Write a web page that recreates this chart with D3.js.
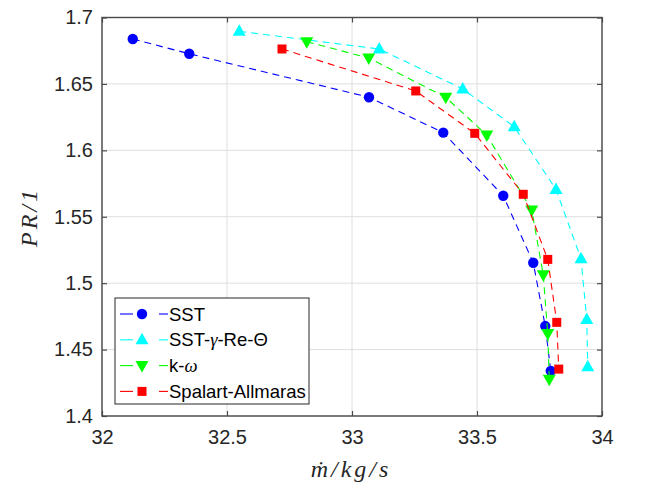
<!DOCTYPE html>
<html><head><meta charset="utf-8">
<script src="https://cdn.jsdelivr.net/npm/d3@7"></script>
<style>body{margin:0;background:#fff}svg{display:block}</style>
</head><body>
<svg id="c" width="646" height="482"></svg>
<script>
const seriesNames = ["SST", "SST-\u03B3-Re-\u0398", "k-\u03C9", "Spalart-Allmaras"];
const sstX = [32.123, 32.349, 33.068, 33.365, 33.605, 33.725, 33.773, 33.795];
const sstY = [1.6838, 1.6727, 1.6400, 1.6133, 1.5658, 1.5154, 1.4677, 1.4340];
const gammaX = [32.549, 33.109, 33.443, 33.649, 33.816, 33.916, 33.939, 33.943];
const gammaY = [1.6896, 1.6763, 1.6462, 1.6178, 1.5706, 1.5184, 1.4727, 1.4370];
const kwX = [32.819, 33.067, 33.375, 33.539, 33.719, 33.765, 33.783, 33.789];
const kwY = [1.6818, 1.6695, 1.6399, 1.6115, 1.5550, 1.5063, 1.4622, 1.4276];
const saX = [32.720, 33.255, 33.491, 33.685, 33.783, 33.819, 33.827];
const saY = [1.6763, 1.6447, 1.6128, 1.5669, 1.5179, 1.4705, 1.4353];
const xTicks = [32, 32.5, 33, 33.5, 34];
const yTicks = [1.4, 1.45, 1.5, 1.55, 1.6, 1.65, 1.7];

const colors = ["#0000ff", "#00ffff", "#00ff00", "#ff0000"];
const markers = ["circle", "up", "down", "square"];
const data = [[sstX, sstY], [gammaX, gammaY], [kwX, kwY], [saX, saY]]
  .map(([xs, ys]) => xs.map((x, i) => ({x, y: ys[i]})));

const L = 102, R = 602, T = 17.5, B = 416;
const svg = d3.select("#c");
const x = d3.scaleLinear().domain([32, 34]).range([L, R]);
const y = d3.scaleLinear().domain([1.4, 1.7]).range([B, T]);
const font = "'Liberation Sans', Arial, Helvetica, sans-serif";

// grid
const g = svg.append("g");
g.selectAll(".gx").data(xTicks).join("line")
  .attr("x1", d => x(d)).attr("x2", d => x(d)).attr("y1", T).attr("y2", B)
  .attr("stroke", "#dedede").attr("stroke-width", 1);
g.selectAll(".gy").data(yTicks).join("line")
  .attr("y1", d => y(d)).attr("y2", d => y(d)).attr("x1", L).attr("x2", R)
  .attr("stroke", "#dedede").attr("stroke-width", 1);

// axes (ticks inside)
const axColor = "#4a4a4a";
function styleAxis(sel, hideText) {
  sel.select(".domain").remove();
  sel.selectAll(".tick line").attr("stroke", axColor).attr("stroke-width", 1.2);
  sel.selectAll(".tick text").attr("fill", "#262626").style("font-family", font).style("font-size", "20px");
  if (hideText) sel.selectAll(".tick text").remove();
}
svg.append("g").attr("transform", `translate(0,${B})`)
  .call(d3.axisBottom(x).tickValues(xTicks).tickFormat(d3.format("~g")).tickSizeInner(-5).tickPadding(14))
  .call(s => styleAxis(s, false));
svg.append("g").attr("transform", `translate(0,${T})`)
  .call(d3.axisTop(x).tickValues(xTicks).tickSizeInner(-5))
  .call(s => styleAxis(s, true));
svg.append("g").attr("transform", `translate(${L},0)`)
  .call(d3.axisLeft(y).tickValues(yTicks).tickFormat(d3.format("~g")).tickSizeInner(-5).tickPadding(9))
  .call(s => styleAxis(s, false));
svg.append("g").attr("transform", `translate(${R},0)`)
  .call(d3.axisRight(y).tickValues(yTicks).tickSizeInner(-5))
  .call(s => styleAxis(s, true));
svg.append("rect").attr("x", L).attr("y", T).attr("width", R - L).attr("height", B - T)
  .attr("fill", "none").attr("stroke", axColor).attr("stroke-width", 1.4);

// markers
function marker(sel, type, color) {
  if (type === "circle") {
    sel.append("circle").attr("r", 5.2).attr("fill", color);
  } else if (type === "up") {
    sel.append("path").attr("d", "M0,-7 L6.5,4.5 L-6.5,4.5Z").attr("fill", color);
  } else if (type === "down") {
    sel.append("path").attr("d", "M0,7 L6.5,-4.5 L-6.5,-4.5Z").attr("fill", color);
  } else {
    sel.append("rect").attr("x", -4.5).attr("y", -4.5).attr("width", 9).attr("height", 9).attr("fill", color);
  }
}

const line = d3.line().x(d => x(d.x)).y(d => y(d.y));
data.forEach((pts, i) => {
  svg.append("path").datum(pts).attr("d", line).attr("fill", "none")
    .attr("stroke", colors[i]).attr("stroke-width", 1.1).attr("stroke-dasharray", "7,5");
  svg.append("g").selectAll("g").data(pts).join("g")
    .attr("transform", d => `translate(${x(d.x)},${y(d.y)})`)
    .each(function () { marker(d3.select(this), markers[i], colors[i]); });
});

// legend
const lg = svg.append("g");
lg.append("rect").attr("x", 115).attr("y", 298).attr("width", 194).attr("height", 106)
  .attr("fill", "#fff").attr("stroke", "#262626").attr("stroke-width", 1);
seriesNames.forEach((name, i) => {
  const yy = 314 + i * 25.8;
  [[120, 133], [159, 168]].forEach(([a, b]) => {
    lg.append("line").attr("x1", a).attr("x2", b).attr("y1", yy).attr("y2", yy)
      .attr("stroke", colors[i]).attr("stroke-width", 1.1);
  });
  const m = lg.append("g").attr("transform", `translate(142,${yy})`);
  marker(m, markers[i], colors[i]);
  const t = lg.append("text").attr("x", 169).attr("y", yy).attr("dy", "0.36em")
    .style("font-family", font).style("font-size", "18.5px").attr("fill", "#000");
  if (i === 1) {
    t.append("tspan").text("SST-");
    t.append("tspan").text("\u03B3").style("font-family", "'Liberation Serif', serif").style("font-style", "italic");
    t.append("tspan").text("-Re-\u0398");
  } else if (i === 2) {
    t.append("tspan").text("k-");
    t.append("tspan").text("\u03C9").style("font-family", "'Liberation Serif', serif").style("font-style", "italic");
  } else {
    t.text(name);
  }
});

// axis labels
const serif = "'Liberation Serif', 'Times New Roman', serif";
svg.append("text").attr("x", 351).attr("y", 477).attr("text-anchor", "middle")
  .style("font-family", serif).style("font-style", "italic").style("font-size", "24px")
  .style("letter-spacing", "3px")
  .attr("fill", "#262626").text("\u1E41/kg/s");
svg.append("text").attr("transform", "translate(37,217) rotate(-90)").attr("text-anchor", "middle")
  .style("font-family", serif).style("font-style", "italic").style("font-size", "24px")
  .style("letter-spacing", "3px")
  .attr("fill", "#262626").text("PR/1");
</script>
</body></html>
